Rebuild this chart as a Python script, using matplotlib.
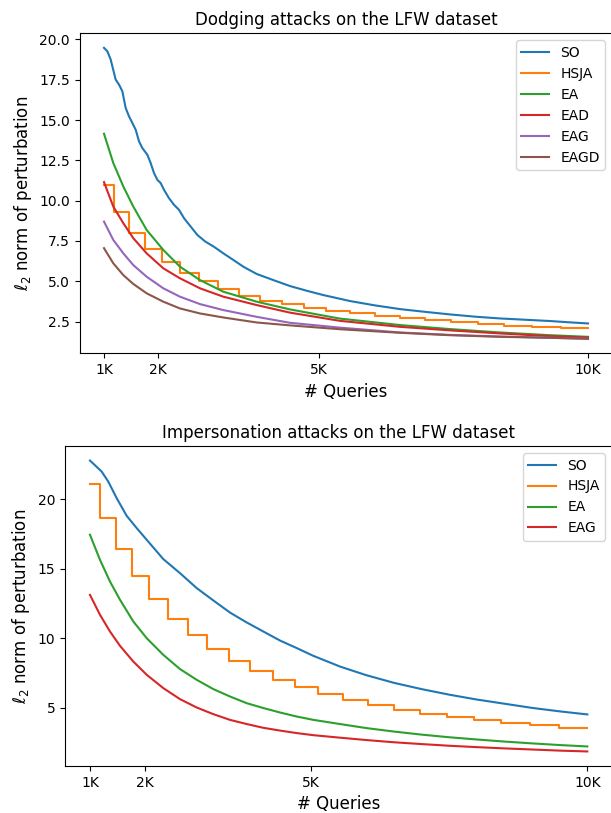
import matplotlib
matplotlib.use("Agg")
import matplotlib.pyplot as plt

# ---------------- Dodging attacks (top panel) ----------------
dodge_so_q = [1000, 1062, 1124, 1155, 1186, 1217, 1279, 1341, 1372, 1403, 1465, 1527,
              1589, 1651, 1713, 1806, 1868, 1930, 1992, 2054, 2116, 2209, 2302, 2395,
              2488, 2612, 2736, 2884, 3039, 3219, 3405, 3591, 3839, 4149, 4459, 4769,
              5079, 5389, 5574, 6039, 6504, 6969, 7434, 7899, 8363, 8828, 9293, 9650, 10000]
dodge_so_v = [19.48, 19.27, 18.76, 18.34, 17.93, 17.51, 17.20, 16.79, 16.27, 15.75, 15.23, 14.82,
              14.40, 13.68, 13.26, 12.85, 12.33, 11.71, 11.29, 11.09, 10.67, 10.15, 9.74, 9.43,
              8.91, 8.39, 7.87, 7.46, 7.15, 6.73, 6.32, 5.90, 5.45, 5.07, 4.70, 4.41,
              4.14, 3.91, 3.77, 3.50, 3.27, 3.10, 2.94, 2.80, 2.69, 2.61, 2.53, 2.45, 2.38]

# HSJA is reported once per iteration: query counts where the estimate changes
hsja_steps_q = [1186, 1465, 1762, 2072, 2413, 2766, 3125, 3510, 3900, 4304, 4719,
                5135, 5574, 6039, 6504, 6969, 7453, 7948, 8444, 8964, 9492]
dodge_hsja_v = [10.98, 9.28, 8.02, 6.98, 6.17, 5.51, 5.00, 4.51, 4.10, 3.79, 3.56,
                3.36, 3.17, 3.00, 2.84, 2.69, 2.57, 2.44, 2.34, 2.23, 2.15, 2.07]

dodge_q = [1000, 1173, 1359, 1545, 1793, 2103, 2413, 2785, 3219, 3839, 4459,
           5389, 6504, 7434, 8363, 9293, 10000]
dodge_ea_v = [14.15, 12.33, 10.88, 9.63, 8.18, 6.94, 5.90, 5.07, 4.35, 3.73, 3.25,
              2.68, 2.28, 2.03, 1.82, 1.65, 1.55]
dodge_ead_v = [11.15, 9.63, 8.60, 7.67, 6.73, 5.80, 5.18, 4.56, 4.04, 3.52, 3.05,
               2.54, 2.17, 1.95, 1.76, 1.59, 1.51]
dodge_eag_v = [8.70, 7.56, 6.73, 6.00, 5.28, 4.56, 4.04, 3.58, 3.21, 2.79, 2.42,
               2.12, 1.82, 1.67, 1.57, 1.49, 1.43]
dodge_eagd_v = [7.05, 6.11, 5.38, 4.83, 4.25, 3.73, 3.31, 3.00, 2.75, 2.44, 2.26,
                2.02, 1.80, 1.65, 1.55, 1.49, 1.43]

# ---------------- Impersonation attacks (bottom panel) ----------------
imp_so_q = [1000, 1211, 1331, 1483, 1664, 1845, 2026, 2327, 2629, 2930, 3232, 3533,
            3835, 4136, 4438, 4740, 5041, 5343, 5524, 6000, 6500, 7000, 7500, 8000,
            8500, 9000, 9500, 10000]
imp_so_v = [22.77, 21.98, 21.26, 20.07, 18.80, 17.92, 17.08, 15.69, 14.68, 13.61, 12.72, 11.85,
            11.14, 10.49, 9.84, 9.30, 8.74, 8.26, 7.97, 7.35, 6.80, 6.35, 5.95, 5.60,
            5.30, 5.00, 4.75, 4.53]

imp_hsja_v = [21.10, 18.63, 16.43, 14.49, 12.84, 11.38, 10.23, 9.22, 8.38, 7.67, 7.02,
              6.47, 5.99, 5.58, 5.20, 4.86, 4.58, 4.34, 4.13, 3.95, 3.76, 3.57]

imp_q = [1000, 1181, 1362, 1543, 1784, 2026, 2327, 2629, 2930, 3232, 3533, 3835,
         4136, 4438, 4740, 5041, 5524, 6000, 6500, 7000, 7500, 8000, 8500, 9000, 9500, 10000]
imp_ea_v = [17.44, 15.64, 14.08, 12.77, 11.21, 10.01, 8.81, 7.79, 7.02, 6.35, 5.82, 5.34,
            4.99, 4.67, 4.38, 4.14, 3.84, 3.55, 3.30, 3.08, 2.89, 2.73, 2.58, 2.45, 2.33, 2.23]
imp_eag_v = [13.12, 11.69, 10.49, 9.46, 8.33, 7.38, 6.42, 5.63, 5.03, 4.55, 4.14, 3.84,
             3.57, 3.37, 3.19, 3.04, 2.86, 2.69, 2.53, 2.40, 2.28, 2.18, 2.09, 2.01, 1.93, 1.87]

query_ticks = [1000, 2000, 5000, 10000]
query_tick_labels = ["1K", "2K", "5K", "10K"]
q_start, q_end = 1000, 10000

W, H = 611, 813
fig = plt.figure(figsize=(W / 100, H / 100), dpi=100)


def axes_px(left, right, top, bottom):
    return fig.add_axes([left / W, 1 - bottom / H, (right - left) / W, (bottom - top) / H])


def hsja_xy(levels):
    xs = [q_start] + hsja_steps_q + [q_end]
    ys = list(levels) + [levels[-1]]
    return xs, ys


def finish(ax, title):
    ax.set_xticks(query_ticks)
    ax.set_xticklabels(query_tick_labels)
    ax.set_xlabel("# Queries", fontsize=12)
    ax.set_ylabel(r"$\ell_2$ norm of perturbation", fontsize=12)
    ax.set_title(title, fontsize=12)
    ax.legend(loc="upper right")


ax1 = axes_px(79.8, 612.2, 33.3, 353.3)
ax1.plot(dodge_so_q, dodge_so_v, label="SO")
hx, hy = hsja_xy(dodge_hsja_v)
ax1.step(hx, hy, where="post", label="HSJA")
ax1.plot(dodge_q, dodge_ea_v, label="EA")
ax1.plot(dodge_q, dodge_ead_v, label="EAD")
ax1.plot(dodge_q, dodge_eag_v, label="EAG")
ax1.plot(dodge_q, dodge_eagd_v, label="EAGD")
finish(ax1, "Dodging attacks on the LFW dataset")

ax2 = axes_px(65.1, 612.2, 446.0, 766.0)
ax2.plot(imp_so_q, imp_so_v, label="SO")
hx, hy = hsja_xy(imp_hsja_v)
ax2.step(hx, hy, where="post", label="HSJA")
ax2.plot(imp_q, imp_ea_v, label="EA")
ax2.plot(imp_q, imp_eag_v, label="EAG")
finish(ax2, "Impersonation attacks on the LFW dataset")

fig.savefig("out.png", dpi=100)
